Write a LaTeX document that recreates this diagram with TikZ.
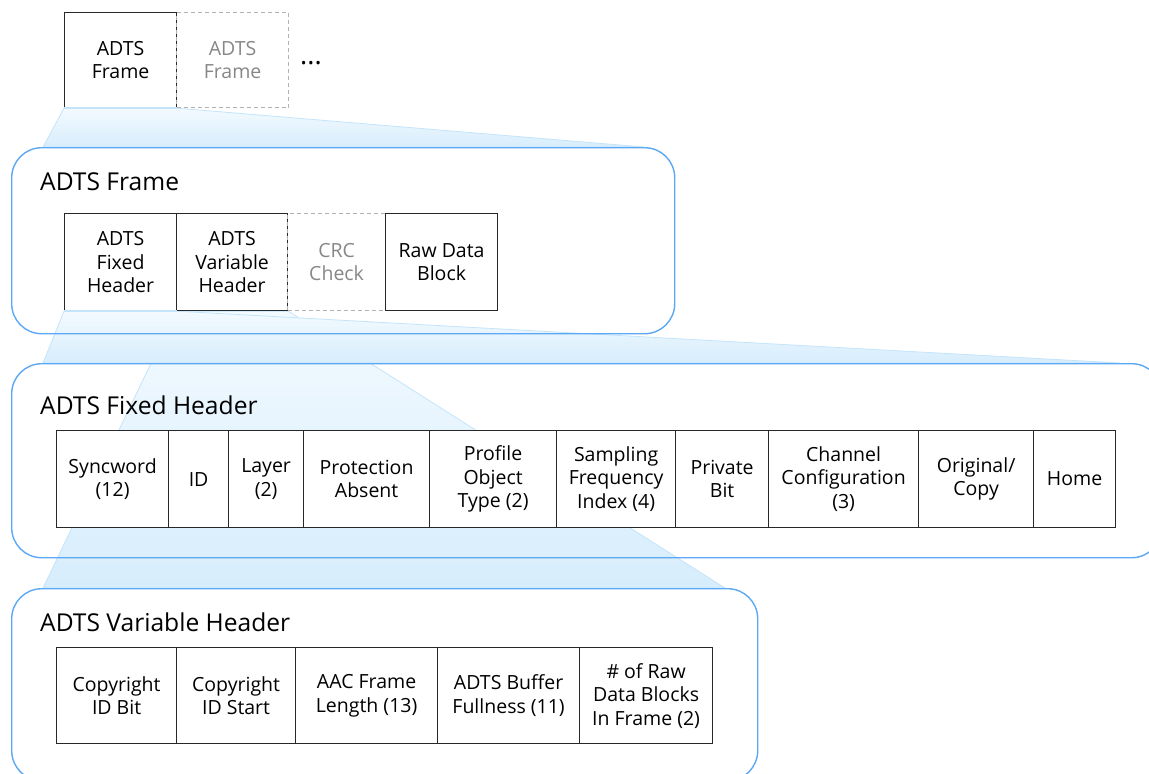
\documentclass[tikz,border=0pt]{standalone}
\usepackage{fontspec}
\setmainfont{Open Sans}

\definecolor{frameblue}{RGB}{92,168,245}
\definecolor{projtop}{RGB}{243,250,255}
\definecolor{projbot}{RGB}{215,237,252}
\definecolor{projedge}{RGB}{196,228,250}
\definecolor{cellline}{RGB}{40,40,40}
\definecolor{ghost}{RGB}{178,178,178}
\definecolor{ghosttext}{RGB}{135,135,135}

\pgfdeclarelayer{wedges}
\pgfsetlayers{wedges,main}

\tikzset{
  x=1pt, y=-1pt,
  cell/.style={draw=cellline, line width=1.2pt, fill=white, anchor=north west,
    inner sep=0pt, align=center, font=\fontsize{19.5}{23.5}\selectfont},
  ghostcell/.style={cell, draw=ghost, dash pattern=on 4pt off 3pt, text=ghosttext},
  container/.style={draw=frameblue, line width=1.4pt, rounded corners=30pt,
    anchor=north west, inner sep=0pt},
  heading/.style={anchor=base west, inner sep=0pt, font=\fontsize{24.6}{29}\selectfont},
  proj/.style={top color=projtop, bottom color=projbot, draw=projedge, line width=0.8pt},
  projcover/.style={draw=projedge, line width=1.8pt},
}

\begin{document}
\begin{tikzpicture}
\useasboundingbox (0,0) rectangle (1149,774);

% containers
\node[container, minimum width=663pt, minimum height=186pt] (cframe) at (11,147) {};
\node[container, minimum width=1150pt, minimum height=194pt] (cfixed) at (11,363) {};
\node[container, minimum width=746pt, minimum height=192pt] (cvar) at (11,588) {};

\node[heading] (tframe) at (40,190) {ADTS Frame};
\node[heading] (tfixed) at (40,414) {ADTS Fixed Header};
\node[heading] (tvar) at (40,631) {ADTS Variable Header};

% stream of frames
\node[cell, minimum width=112pt, minimum height=95pt] (top1) at (64,12) {ADTS\\Frame};
\node[ghostcell, minimum width=112pt, minimum height=95pt] (top2) at (176,12) {ADTS\\Frame};
\node[anchor=base west, inner sep=0pt, font=\fontsize{27}{30}\selectfont] (more) at (300,64) {...};

% frame layout boxes
\node[cell, minimum width=112pt, minimum height=97pt] (fixedh) at (64,213) {ADTS\\Fixed\\Header};
\node[cell, minimum width=111pt, minimum height=97pt] (varh) at (176,213) {ADTS\\Variable\\Header};
\node[ghostcell, minimum width=98pt, minimum height=97pt] (crc) at (287,213) {CRC\\Check};
\node[cell, minimum width=112pt, minimum height=97pt] (raw) at (385,213) {Raw Data\\Block};

% fixed header fields
\node[cell, minimum width=112pt, minimum height=97pt] (f1) at (56,430) {Syncword\\(12)};
\node[cell, minimum width=60pt, minimum height=97pt] (f2) at (168,430) {ID};
\node[cell, minimum width=75pt, minimum height=97pt] (f3) at (228,430) {Layer\\(2)};
\node[cell, minimum width=126pt, minimum height=97pt] (f4) at (303,430) {Protection\\Absent};
\node[cell, minimum width=127pt, minimum height=97pt] (f5) at (429,430) {Profile\\Object\\Type (2)};
\node[cell, minimum width=119pt, minimum height=97pt] (f6) at (556,430) {Sampling\\Frequency\\Index (4)};
\node[cell, minimum width=93pt, minimum height=97pt] (f7) at (675,430) {Private\\Bit};
\node[cell, minimum width=150pt, minimum height=97pt] (f8) at (768,430) {Channel\\Configuration\\(3)};
\node[cell, minimum width=115pt, minimum height=97pt] (f9) at (918,430) {Original/\\Copy};
\node[cell, minimum width=82pt, minimum height=97pt] (f10) at (1033,430) {Home};

% variable header fields
\node[cell, minimum width=120pt, minimum height=96pt] (v1) at (56,647) {Copyright\\ID Bit};
\node[cell, minimum width=119pt, minimum height=96pt] (v2) at (176,647) {Copyright\\ID Start};
\node[cell, minimum width=142pt, minimum height=96pt] (v3) at (295,647) {AAC Frame\\Length (13)};
\node[cell, minimum width=142pt, minimum height=96pt] (v4) at (437,647) {ADTS Buffer\\Fullness (11)};
\node[cell, minimum width=133pt, minimum height=96pt] (v5) at (579,647) {\# of Raw\\Data Blocks\\In Frame (2)};

% ends of the zoom wedges on the container tops
\coordinate (w1l) at (43,147);
\coordinate (w1r) at (644,147);
\coordinate (w2l) at (43,363);
\coordinate (w2r) at (1120,363);
\coordinate (w3l) at (43,588);
\coordinate (w3r) at (725,588);

% zoom wedges, behind everything else
\begin{pgfonlayer}{wedges}
\path[proj] (varh.south west) -- (varh.south east) -- (w3r) -- (w3l) -- cycle;
\path[proj] (top1.south west) -- (top1.south east) -- (w1r) -- (w1l) -- cycle;
\path[proj] (fixedh.south west) -- (fixedh.south east) -- (w2r) -- (w2l) -- cycle;
\end{pgfonlayer}

% the zoomed boxes open into their wedges
\draw[projcover] (top1.south west) -- (top1.south east);
\draw[projcover] (fixedh.south west) -- (fixedh.south east);
\end{tikzpicture}
\end{document}
